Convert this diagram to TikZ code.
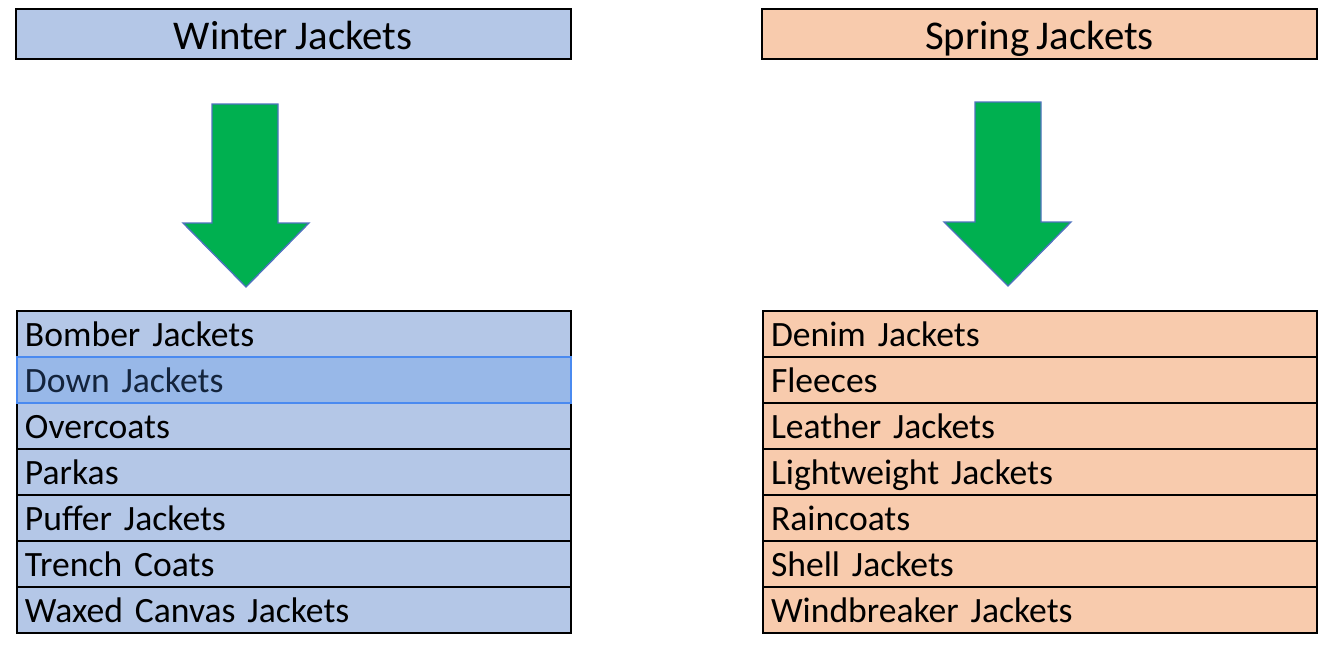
\documentclass[tikz,border=0pt]{standalone}
\usepackage{fontspec}
\setmainfont{Carlito}[WordSpace=0.8]
\definecolor{winter}{HTML}{B4C7E7}
\definecolor{spring}{HTML}{F8CBAD}
\definecolor{sel}{HTML}{98B8E8}
\definecolor{selborder}{HTML}{4A8AF0}
\definecolor{seltext}{HTML}{14243C}
\definecolor{arrowgreen}{HTML}{00B050}
\definecolor{arrowedge}{HTML}{4F72BE}
\begin{document}
\begin{tikzpicture}[x=0.75pt,y=-0.75pt,
  header/.style={draw=black, line width=1.5pt, minimum width=416.25pt, minimum height=37.5pt, inner sep=0pt, text height=25pt, text depth=2.5pt, font=\fontsize{30.6}{36}\selectfont},
  row/.style={draw=black, line width=1.5pt, minimum width=415.5pt, minimum height=34.5pt, inner xsep=6pt, inner ysep=0pt, text width=403.5pt, text height=22pt, text depth=3.5pt, align=left, font=\fontsize{26.7}{32}\selectfont},
  selrow/.style={row, fill=sel, draw=selborder, line width=1pt, text=seltext},
  blockarrow/.style={fill=arrowgreen, draw=arrowedge, line width=1pt, line join=miter}]
\useasboundingbox (0,0) rectangle (1336,646);

% headers
\node[header, fill=winter] (wh) at (293,34) {Winter Jackets};
\node[header, fill=spring] (sh) at (1039.5,34) {Spring Jackets};

% arrows
\draw[blockarrow] (212,104) -- (278,104) -- (278,223) -- (309,223) -- (246,287) -- (183,223) -- (212,223) -- cycle;
\draw[blockarrow] (975,102) -- (1041,102) -- (1041,222) -- (1071,222) -- (1008,286) -- (944,222) -- (975,222) -- cycle;

% winter list
\node[row, fill=winter] (w1) at (294,334) {Bomber Jackets};
\node[row, fill=winter] (w3) at (294,426) {Overcoats};
\node[row, fill=winter] (w4) at (294,472) {Parkas};
\node[row, fill=winter] (w5) at (294,518) {Puffer Jackets};
\node[row, fill=winter] (w6) at (294,564) {Trench Coats};
\node[row, fill=winter] (w7) at (294,610) {Waxed Canvas Jackets};
\node[selrow] (w2) at (294,380) {Down Jackets};

% spring list
\node[row, fill=spring] (s1) at (1040,334) {Denim Jackets};
\node[row, fill=spring] (s2) at (1040,380) {Fleeces};
\node[row, fill=spring] (s3) at (1040,426) {Leather Jackets};
\node[row, fill=spring] (s4) at (1040,472) {Lightweight Jackets};
\node[row, fill=spring] (s5) at (1040,518) {Raincoats};
\node[row, fill=spring] (s6) at (1040,564) {Shell Jackets};
\node[row, fill=spring] (s7) at (1040,610) {Windbreaker Jackets};
\end{tikzpicture}
\end{document}
